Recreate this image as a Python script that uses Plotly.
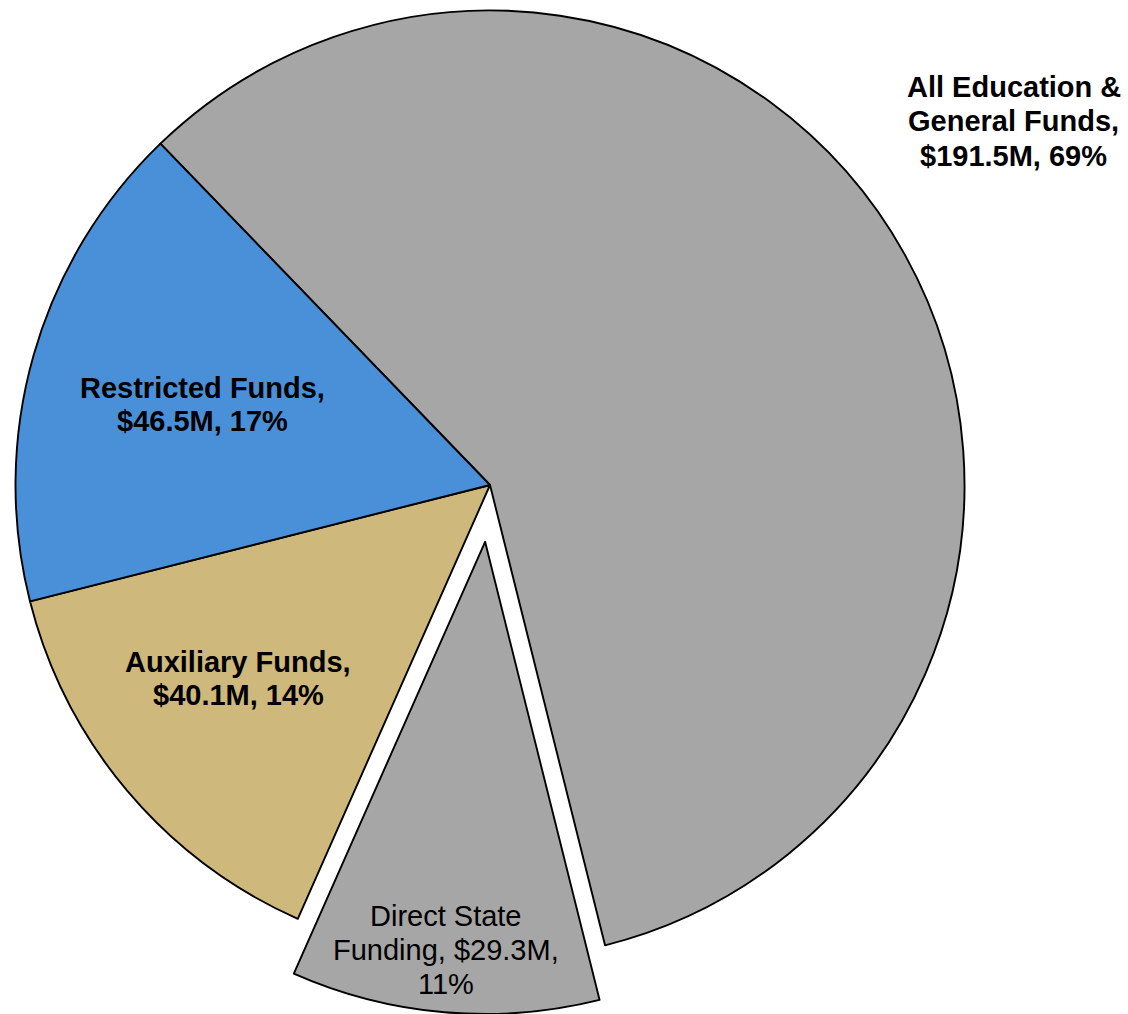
import math
import plotly.graph_objects as go

# Funding sources (millions of dollars). Education & General includes Direct State Funding.
categories = ["All Education & General Funds", "Restricted Funds", "Auxiliary Funds", "Direct State Funding"]
amounts = [191.5, 46.5, 40.1, 29.3]
bold_label = [True, True, True, False]

colors = {"gray": "#A6A6A6", "blue": "#4A90D9", "tan": "#CFB87C"}

W, H = 1128, 1014
FONT = "Liberation Sans, Arial, Helvetica, sans-serif"
FS = 29
EDGE = 1.9

eg_total, restricted, auxiliary, direct_state = amounts
grand_total = eg_total + restricted + auxiliary
eg_other = eg_total - direct_state

# slice order, clockwise from the starting edge
slice_names = ["E&G (other)", "Direct State Funding", "Auxiliary Funds", "Restricted Funds"]
slice_values = [eg_other, direct_state, auxiliary, restricted]
rotation = -44

cx, cy, r = 490.0, 485.0, 474.5       # pie centre / radius in px
pull_px = 57.0                        # how far the Direct State slice is pulled out


def px_domain(xc, yc, rad):
    return dict(x=[(xc - rad) / W, (xc + rad) / W],
                y=[1 - (yc + rad) / H, 1 - (yc - rad) / H])


mid = rotation + (eg_other + direct_state / 2) / grand_total * 360
ox = pull_px * math.sin(math.radians(mid))
oy = -pull_px * math.cos(math.radians(mid))
cx2, cy2 = cx + ox, cy + oy
r2 = min(r, H - cy2)

clear = "rgba(0,0,0,0)"
fig = go.Figure()

fig.add_trace(go.Pie(
    labels=slice_names, values=slice_values, sort=False, direction="clockwise",
    rotation=rotation, textinfo="none", hoverinfo="label+value", showlegend=False,
    marker=dict(colors=[colors["gray"], clear, colors["tan"], colors["blue"]],
                line=dict(color="black", width=[EDGE, 0, EDGE, EDGE])),
    domain=px_domain(cx, cy, r),
))

fig.add_trace(go.Pie(
    labels=slice_names, values=slice_values, sort=False, direction="clockwise",
    rotation=rotation, textinfo="none", hoverinfo="label+value", showlegend=False,
    marker=dict(colors=[clear, colors["gray"], clear, clear],
                line=dict(color="black", width=[0, EDGE, 0, 0])),
    domain=px_domain(cx2, cy2, r2),
))


def pct(v):
    return round(v / grand_total * 100)


label_lines = [
    ["All Education &", "General Funds,", f"${eg_total}M, {pct(eg_total)}%"],
    ["Restricted Funds,", f"${restricted}M, {pct(restricted)}%"],
    ["Auxiliary Funds,", f"${auxiliary}M, {pct(auxiliary)}%"],
    ["Direct State", f"Funding, ${direct_state}M,", f"{pct(direct_state)}%"],
]
# centre x and first-line centre y (px), line step (px)
label_pos = [(1013.5, 86.5, 34.7), (202.5, 387.5, 34.0), (238.3, 661.5, 33.5), (445.7, 916.0, 34.0)]

for lines, (lx, ly, step), bold in zip(label_lines, label_pos, bold_label):
    for i, line in enumerate(lines):
        fig.add_annotation(
            x=lx / W, y=1 - (ly + i * step) / H, xref="paper", yref="paper",
            text=f"<b>{line}</b>" if bold else line, showarrow=False,
            xanchor="center", yanchor="middle",
            font=dict(family=FONT, size=FS, color="black"),
        )

fig.update_layout(
    width=W, height=H, margin=dict(l=0, r=0, t=0, b=0),
    paper_bgcolor="white", plot_bgcolor="white",
)

fig.write_html("out.html")
